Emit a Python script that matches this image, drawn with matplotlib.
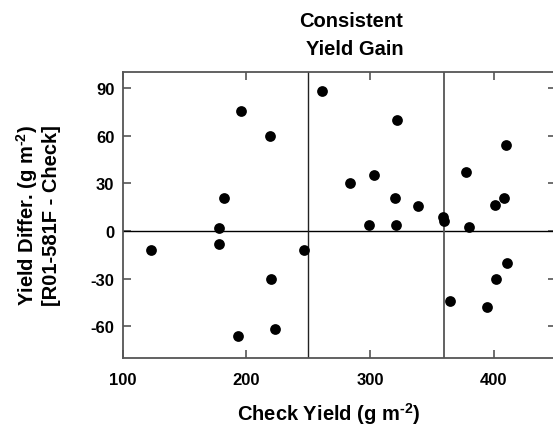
import matplotlib
matplotlib.use("Agg")
import matplotlib.pyplot as plt

plt.rcParams['font.family'] = ['Liberation Sans', 'DejaVu Sans']
plt.rcParams['mathtext.fontset'] = 'custom'
plt.rcParams['mathtext.rm'] = 'Liberation Sans:bold'
plt.rcParams['mathtext.default'] = 'bf'
plt.rcParams['mathtext.bf'] = 'Liberation Sans:bold'

check_yield = [123, 178, 178, 182, 196, 219, 220, 193, 223, 247,
               261, 322, 303, 284, 320, 339, 299, 321, 359,
               360, 378, 380, 410, 408, 401, 411, 402, 365, 395]
yield_diff = [-12, 2, -8, 20.5, 75.5, 60, -30, -66, -62, -12,
              88, 70, 35.5, 30, 21, 16, 4, 4, 9,
              6, 37, 2.5, 54, 21, 16.5, -20, -30, -44, -48]

x_ticks = [100, 200, 300, 400]
y_ticks = [-60, -30, 0, 30, 60, 90]
x_divisions = [250, 360]

W, H = 553, 427
fig = plt.figure(figsize=(W / 100, H / 100), dpi=100)
left_px, right_px, top_px, bottom_px = 122.7, 555.5, 73.3, 359.0
ax = fig.add_axes([left_px / W, 1 - bottom_px / H,
                   (right_px - left_px) / W, (bottom_px - top_px) / H])

ax.scatter(check_yield, yield_diff, s=60, color='black', zorder=3, linewidths=0)
ax.axhline(0, color='black', lw=1.0, zorder=2)
ax.axvline(x_divisions[0], color='#222222', lw=1.0, zorder=2)
ax.axvline(x_divisions[1], color='#555555', lw=1.3, zorder=2)

ax.set_xlim(100, 450)
ax.set_ylim(-80, 100)
ax.set_xticks(x_ticks)
ax.set_yticks(y_ticks)
ax.set_xticklabels([str(v) for v in x_ticks])
ax.set_yticklabels([str(v) for v in y_ticks])
ax.tick_params(direction='in', length=6, width=1.2, color='#555555',
               top=True, right=True, labelsize=12)
ax.tick_params(axis='x', pad=10)
ax.tick_params(axis='y', pad=6)
for lab in ax.get_xticklabels() + ax.get_yticklabels():
    lab.set_fontweight('bold')
for sp in ax.spines.values():
    sp.set_color('#555555')
    sp.set_linewidth(1.3)

sup = r'$^{\text{-2}}$'
fig.text(329 / W, 1 - 421 / H, 'Check Yield (g m' + sup + ')', ha='center', va='baseline',
         fontsize=14.5, fontweight='bold')
fig.text(37.5 / W, 1 - 216 / H, 'Yield Differ. (g m' + sup + ')\n[R01-581F - Check]',
         ha='center', va='center', rotation=90, fontsize=14.5, fontweight='bold',
         linespacing=1.1)
fig.text(351 / W, 1 - 27.3 / H, 'Consistent', ha='center', va='baseline',
         fontsize=14.5, fontweight='bold')
fig.text(354.5 / W, 1 - 55 / H, 'Yield Gain', ha='center', va='baseline',
         fontsize=14.5, fontweight='bold')

fig.savefig('out.png', dpi=100)
